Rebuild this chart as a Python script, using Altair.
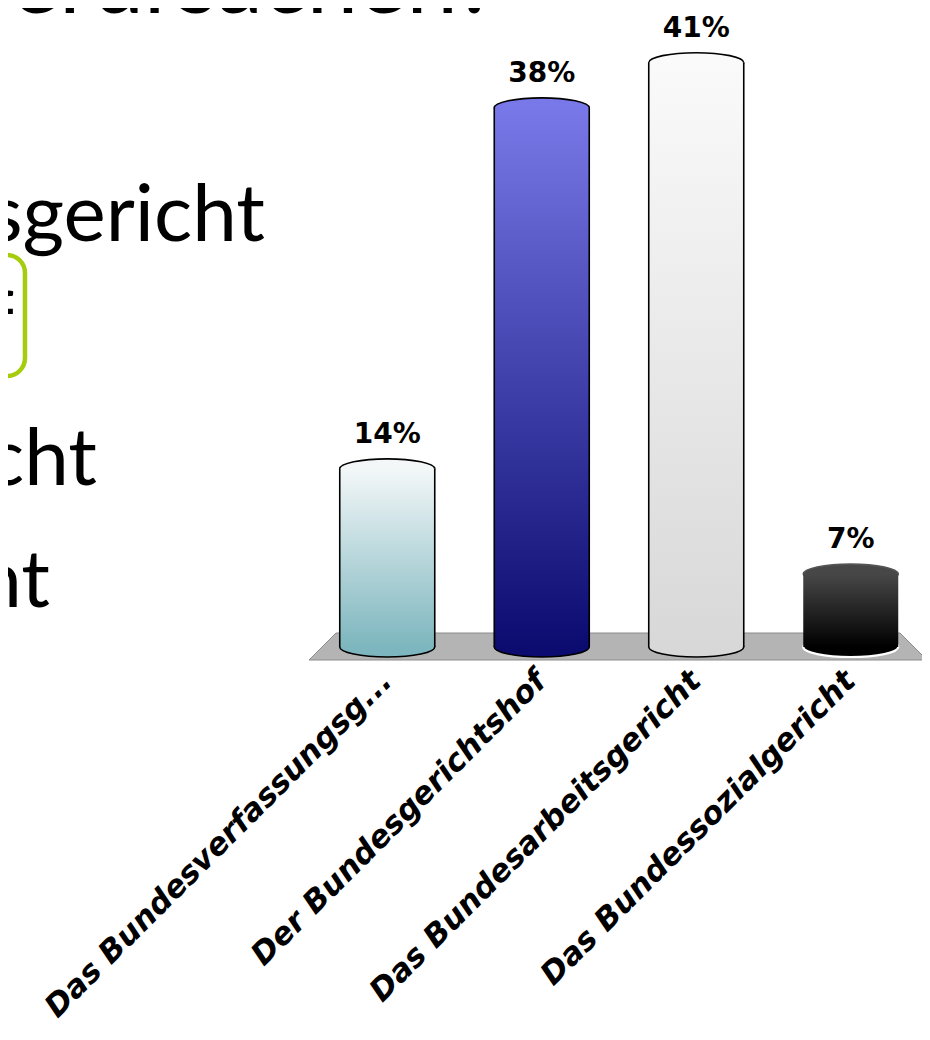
import altair as alt
import pandas as pd

# ---- data ----
categories = [
    "Das Bundesverfassungsg...",
    "Der Bundesgerichtshof",
    "Das Bundesarbeitsgericht",
    "Das Bundessozialgericht",
]
values = [14, 38, 41, 7]
value_labels = ["14%", "38%", "41%", "7%"]

# slide text fragments visible at the left edge
slide_title = "verursachen?"
slide_lines = ["sgericht", "f", "cht", "nt"]

# ---- styles ----
top_colors = ["#f3f7f8", "#7878e8", "#fafafa", "#474747"]
bottom_colors = ["#7db6be", "#0b0b70", "#d8d8d8", "#000000"]
outline_colors = ["#000000", "#000000", "#000000", "#555555"]
bottom_outline = ["#000000", "#000000", "#000000", "#ffffff"]

df = pd.DataFrame({"cat": categories, "val": values, "lab": value_labels})

BAR_W = 95
RX = BAR_W / 2
RY = 10
BASE_PX = 639  # centre of bottom ellipses (floor level)
ellipse = f"M {-RX} 0 A {RX} {RY} 0 1 1 {RX} 0 A {RX} {RY} 0 1 1 {-RX} 0 Z"
floor_path = "M -282 -13.5 L 282 -13.5 L 309 13.5 L -309 13.5 Z"

xscale = alt.Scale(domain=categories, range=[302, 920], paddingInner=0, paddingOuter=0)
yscale = alt.Scale(domain=[0, 44], range=[671.4, 9.6])

X = alt.X(
    "cat:N",
    sort=categories,
    scale=xscale,
    title=None,
    axis=alt.Axis(
        labelAngle=-45,
        labelAlign="right",
        labelBaseline="middle",
        labelFont="DejaVu Sans",
        labelFontWeight="bold",
        labelFontStyle="italic",
        labelFontSize=31,
        labelColor="#000000",
        labelLimit=1000,
        labelPadding=4,
        ticks=False,
        tickSize=0,
        domain=False,
        grid=False,
    ),
)
Y = alt.Y("val:Q", scale=yscale, axis=None, stack=False)

base = alt.Chart(df)

layers = []

# floor
layers.append(
    base.mark_point(
        shape=floor_path, size=4, filled=True, fill="#b4b4b4",
        stroke="#8c8c8c", strokeWidth=1, opacity=1,
    ).encode(x=alt.value(610), y=alt.value(638.5))
    .transform_filter(alt.datum.cat == categories[0])
)

for i, c in enumerate(categories):
    sub = base.transform_filter(alt.datum.cat == c)
    grad = alt.Gradient(
        gradient="linear",
        stops=[
            alt.GradientStop(color=top_colors[i], offset=0),
            alt.GradientStop(color=bottom_colors[i], offset=1),
        ],
        x1=0, x2=0, y1=0, y2=1,
    )
    # top cap
    layers.append(
        sub.mark_point(
            shape=ellipse, size=4, filled=True, fill=top_colors[i],
            stroke=outline_colors[i], strokeWidth=1.6, opacity=1,
        ).encode(x=X, y=Y)
    )
    # bottom cap
    layers.append(
        sub.mark_point(
            shape=ellipse, size=4, filled=True, fill=bottom_colors[i],
            stroke=bottom_outline[i], strokeWidth=2.2 if i == 3 else 1.6, opacity=1,
        ).encode(x=X, y=alt.value(BASE_PX))
    )
    # body
    layers.append(
        sub.mark_bar(width=BAR_W, fill=grad).encode(
            x=X, y=Y, y2=alt.value(BASE_PX)
        )
    )
    if i != 3:
        for off in (-RX, RX):
            layers.append(
                sub.mark_rule(xOffset=off, color="#000000", strokeWidth=1.6).encode(
                    x=X, y=Y, y2=alt.value(BASE_PX)
                )
            )

# value labels
layers.append(
    base.mark_text(
        font="DejaVu Sans", fontWeight="bold", fontSize=28, color="#000000",
        baseline="alphabetic", align="center", dy=-26,
    ).encode(x=X, y=Y, text="lab:N")
)

# slide text fragments (background of the original slide)
slide_font = "Lato"
layers.append(
    base.mark_text(
        text=slide_title, font=slide_font, fontSize=92, align="right",
        baseline="alphabetic", color="#000000",
    ).encode(x=alt.value(489), y=alt.value(5)).transform_filter(alt.datum.cat == categories[0])
)
line_pos = [(257, 233), (6, 340), (89, 477), (42, 599)]
for t, (lx, ly) in zip(slide_lines, line_pos):
    layers.append(
        base.mark_text(
            text=t, font=slide_font, fontSize=80, align="right",
            baseline="alphabetic", color="#000000",
        ).encode(x=alt.value(lx), y=alt.value(ly)).transform_filter(alt.datum.cat == categories[0])
    )

# green highlight box
layers.append(
    base.mark_rect(
        filled=False, stroke="#a6cc0e", strokeWidth=4.5, cornerRadius=18,
    ).encode(
        x=alt.value(-80), x2=alt.value(17), y=alt.value(247), y2=alt.value(368)
    ).transform_filter(alt.datum.cat == categories[0])
)

chart = (
    alt.layer(*layers)
    .properties(
        width=914,
        height=664,
        autosize=alt.AutoSizeParams(type="none"),
        padding={"left": 0, "top": 0, "right": 0, "bottom": 354},
        background="#ffffff",
    )
    .configure_view(strokeWidth=0)
)

chart.save("out.html", embed_options={"renderer": "svg", "actions": False})
